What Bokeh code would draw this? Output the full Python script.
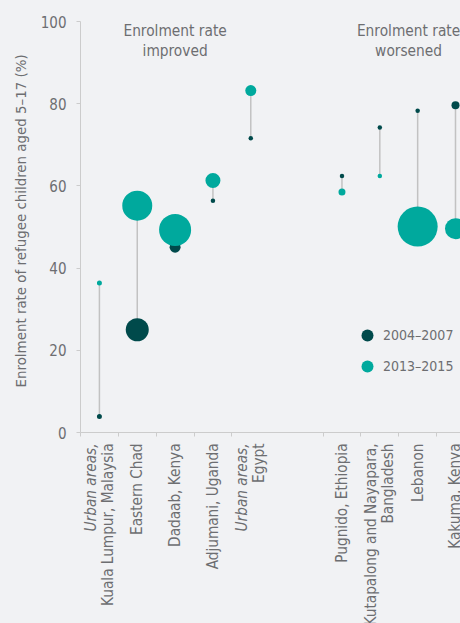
import math
from bokeh.plotting import figure
from bokeh.models import Range1d, FixedTicker, Label, Legend, LegendItem, ColumnDataSource
from bokeh.core.properties import value
from bokeh.embed import file_html
from bokeh.resources import INLINE

# ---------------- data ----------------
groups = ["improved", "improved", "improved", "improved", "improved",
          "worsened", "worsened", "worsened", "worsened"]
group_titles = {"improved": ["Enrolment rate", "improved"],
                "worsened": ["Enrolment rate", "worsened"]}
label_italic = ["Urban areas,", "", "", "", "Urban areas,", "", "", "", ""]
label_line1 = ["Kuala Lumpur, Malaysia", "Eastern Chad", "Dadaab, Kenya", "Adjumani, Uganda",
               "Egypt", "Pugnido, Ethiopia", "Kutapalong and Nayapara,", "Lebanon", "Kakuma, Kenya"]
label_line2 = ["", "", "", "", "", "", "Bangladesh", "", ""]
rate_2004_2007 = [3.9, 25.0, 45.1, 56.4, 71.6, 62.4, 74.2, 78.3, 79.6]
rate_2013_2015 = [36.4, 55.2, 49.3, 61.3, 83.2, 58.5, 62.4, 50.1, 49.6]
# bubble diameters (relative size of refugee child population)
bubble_2004_2007 = [5, 23, 11, 4.5, 4.5, 4.5, 4.5, 4.5, 8]
bubble_2013_2015 = [5, 30, 32, 15, 11, 7, 4.5, 40, 21]
series_names = ["2004–2007", "2013–2015"]
y_ticks = [0, 20, 40, 60, 80, 100]
y_title = "Enrolment rate of refugee children aged 5–17 (%)"

# ---------------- styles ----------------
FONT = "DejaVu Sans Condensed"
TEXT = "#6d6e71"
AXIS = "#cccccc"
DARK = "#004a4b"
TEAL = "#00a99d"
BG = "#f1f2f4"
GAP = 1.41
PY = 4.11      # px per y unit
PX = 37.84     # px per x unit
W, H = 460, 623
TOP, LEFT = 21, 80   # pixel position of y=100 and x-axis start

# x positions from group structure
pos = []
gi = 0
for i, g in enumerate(groups):
    if i > 0 and g != groups[i - 1]:
        gi += 1
    pos.append(i + gi * GAP)
bounds = [x - 0.5 for x in pos] + [pos[-1] + 0.5]
x_start = bounds[0]

y_lo = -(H - (TOP + 100 * PY)) / PY
y_hi = 100 + TOP / PY
x_lo = x_start - LEFT / PX
x_hi = x_start + (W - LEFT) / PX

p = figure(width=W, height=H, x_range=Range1d(x_lo, x_hi), y_range=Range1d(y_lo, y_hi),
           output_backend="svg", toolbar_location=None,
           min_border_left=0, min_border_right=0, min_border_top=0, min_border_bottom=0)
p.background_fill_color = BG
p.border_fill_color = BG
p.outline_line_color = None
p.grid.visible = False

# axes
p.xaxis.fixed_location = y_ticks[0]
p.xaxis.bounds = (bounds[0], x_hi)
p.xaxis.ticker = FixedTicker(ticks=bounds, minor_ticks=[])
p.xaxis.major_label_overrides = {b: "" for b in bounds}
p.xaxis.axis_line_color = AXIS
p.xaxis.major_tick_line_color = AXIS
p.xaxis.major_tick_in = 0
p.xaxis.major_tick_out = 4
p.xaxis.minor_tick_line_color = None

p.yaxis.fixed_location = x_start
p.yaxis.bounds = (y_ticks[0], y_ticks[-1])
p.yaxis.ticker = FixedTicker(ticks=y_ticks, minor_ticks=[])
p.yaxis.axis_line_color = AXIS
p.yaxis.major_tick_line_color = AXIS
p.yaxis.major_tick_in = 0
p.yaxis.major_tick_out = 4
p.yaxis.minor_tick_line_color = None
p.yaxis.major_label_text_font = FONT
p.yaxis.major_label_text_font_size = "15px"
p.yaxis.major_label_text_color = TEXT
p.yaxis.major_label_standoff = 10

p.add_layout(Label(x=20.7, x_units="screen", y=51.5, text=y_title, angle=math.pi / 2,
                   text_align="center", text_baseline="middle", text_font=FONT,
                   text_font_size="14.9px", text_color=TEXT))

src = ColumnDataSource(dict(x=pos, a=rate_2004_2007, b=rate_2013_2015,
                            sa=bubble_2004_2007, sb=bubble_2013_2015))
p.segment(x0="x", y0="a", x1="x", y1="b", source=src, line_color="#c2c2c2", line_width=1.5)
r_a = p.scatter(x="x", y="a", size="sa", source=src, fill_color=DARK, line_color=None)
r_b = p.scatter(x="x", y="b", size="sb", source=src, fill_color=TEAL, line_color=None)

legend = Legend(items=[LegendItem(label=series_names[0], renderers=[r_a]),
                       LegendItem(label=series_names[1], renderers=[r_b])],
                location=(352, 242), glyph_width=30, glyph_height=30, label_standoff=1,
                padding=0, margin=0, spacing=1, border_line_color=None,
                background_fill_alpha=0, label_text_font=FONT,
                label_text_font_size="14px", label_text_color=TEXT)
p.add_layout(legend)

# category labels under the axis (rotated)
lx, ly, lt, ls, lo = [], [], [], [], []
for i, x in enumerate(pos):
    lines = [t for t in (label_italic[i], label_line1[i], label_line2[i]) if t]
    styles = (["italic"] if label_italic[i] else [])
    styles += ["normal"] * (len(lines) - len(styles))
    n = len(lines)
    for k, (t, st) in enumerate(zip(lines, styles)):
        lx.append(x)
        ly.append(y_ticks[0])
        lt.append(t)
        ls.append(st)
        lo.append((k - (n - 1) / 2) * 17)
lsrc = ColumnDataSource(dict(x=lx, y=ly, t=lt, st=ls, xo=lo))
p.text(x="x", y="y", text="t", source=lsrc, angle=math.pi / 2, x_offset="xo", y_offset=11,
       text_align="right", text_baseline="middle", text_font=value(FONT),
       text_font_size=value("15.2px"), text_font_style="st", text_color=TEXT)

# group titles
for g in ["improved", "worsened"]:
    xs = [pos[i] for i in range(len(groups)) if groups[i] == g]
    cx = (min(xs) + max(xs)) / 2 if g == "improved" else min(xs) + 1.76
    for k, t in enumerate(group_titles[g]):
        p.add_layout(Label(x=cx, y=97.64 - k * 4.7, text=t, text_align="center",
                           text_baseline="alphabetic", text_font=FONT, text_font_size="15.3px",
                           text_color=TEXT))

html = file_html(p, INLINE)
html = html.replace("</head>", "<style>html,body{background:%s !important;}</style></head>" % BG, 1)
open("out.html", "w").write(html)
